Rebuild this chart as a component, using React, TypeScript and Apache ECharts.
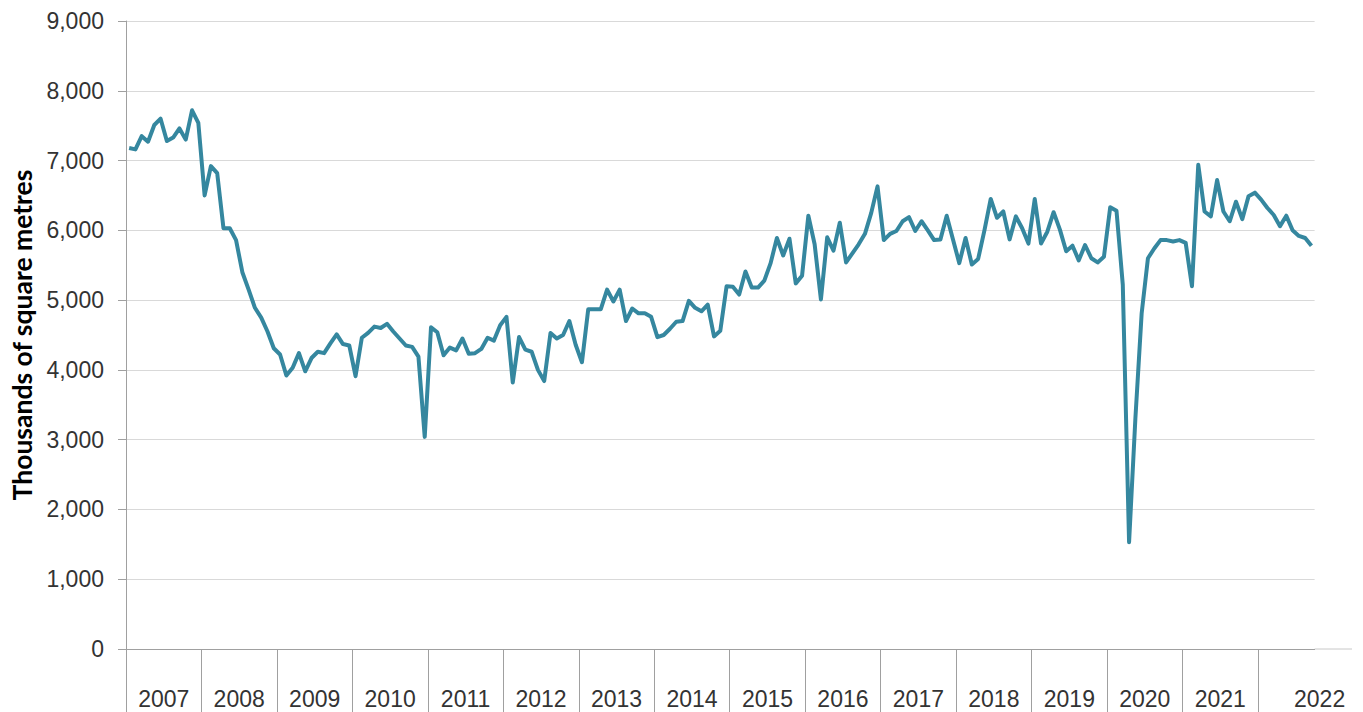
import React, { useEffect, useRef } from 'react';
import * as echarts from 'echarts';

// Year labels shown under the axis
const years: string[] = ['2007', '2008', '2009', '2010', '2011', '2012', '2013', '2014', '2015', '2016', '2017', '2018', '2019', '2020', '2021', '2022'];

// Monthly values, thousands of square metres
const v2007: number[] = [7180, 7160, 7350, 7270, 7510, 7600, 7280, 7330, 7460, 7300, 7720, 7540];
const v2008: number[] = [6500, 6920, 6820, 6030, 6030, 5860, 5400, 5150, 4890, 4750, 4550, 4310];
const v2009: number[] = [4220, 3920, 4030, 4240, 3980, 4170, 4260, 4240, 4380, 4510, 4370, 4350];
const v2010: number[] = [3910, 4460, 4530, 4620, 4600, 4660, 4550, 4450, 4350, 4330, 4190, 3040];
const v2011: number[] = [4610, 4540, 4210, 4320, 4280, 4450, 4230, 4240, 4300, 4460, 4420, 4640];
const v2012: number[] = [4760, 3820, 4470, 4290, 4260, 4000, 3840, 4530, 4450, 4500, 4700, 4360];
const v2013: number[] = [4110, 4870, 4870, 4870, 5150, 4980, 5150, 4700, 4880, 4810, 4810, 4760];
const v2014: number[] = [4470, 4500, 4590, 4690, 4700, 4990, 4890, 4840, 4935, 4480, 4560, 5200];
const v2015: number[] = [5190, 5080, 5410, 5180, 5180, 5280, 5530, 5890, 5640, 5880, 5240, 5350];
const v2016: number[] = [6210, 5800, 5010, 5900, 5710, 6110, 5540, 5670, 5800, 5950, 6250, 6630];
const v2017: number[] = [5860, 5950, 5990, 6130, 6190, 5990, 6130, 6000, 5860, 5870, 6210, 5870];
const v2018: number[] = [5530, 5890, 5510, 5590, 6000, 6450, 6180, 6270, 5870, 6200, 6030, 5810];
const v2019: number[] = [6450, 5810, 5980, 6260, 6010, 5700, 5780, 5570, 5790, 5600, 5540, 5620];
const v2020: number[] = [6330, 6280, 5220, 1530, 3300, 4810, 5600, 5740, 5860, 5860, 5840, 5860];
const v2021: number[] = [5820, 5200, 6940, 6270, 6200, 6720, 6270, 6130, 6410, 6160, 6490, 6540];
const v2022: number[] = [6440, 6320, 6220, 6060, 6210, 6000, 5920, 5890, 5780];

const yTicks: number[] = [0, 1000, 2000, 3000, 4000, 5000, 6000, 7000, 8000, 9000];

const values: number[] = [
  ...v2007, ...v2008, ...v2009, ...v2010, ...v2011, ...v2012, ...v2013, ...v2014,
  ...v2015, ...v2016, ...v2017, ...v2018, ...v2019, ...v2020, ...v2021, ...v2022,
];

const categories: string[] = values.map((_, i) => {
  const y = years[Math.floor(i / 12)];
  const m = (i % 12) + 1;
  return `${y}-${m < 10 ? '0' + m : m}`;
});

const yearStarts: number[] = years.map((_, k) => k * 12);
const labelPositions: number[] = years.map((_, k) =>
  k === years.length - 1 ? values.length : k * 12 + 6
);

const GRID_LEFT = 126;
const GRID_TOP = 21;
const GRID_RIGHT = 48.4;
const GRID_BOTTOM = 63;
const W = 1363;
const H = 712;

export default function App() {
  const ref = useRef<HTMLDivElement>(null);

  useEffect(() => {
    if (!ref.current) return;
    const chart = echarts.init(ref.current, undefined, { renderer: 'svg' });
    const textColor = '#333333';
    const axisGray = '#a0a0a0';
    const fontFamily = '"Liberation Sans", Arial, sans-serif';

    chart.setOption({
      animation: false,
      backgroundColor: '#ffffff',
      grid: {
        left: GRID_LEFT,
        top: GRID_TOP,
        right: GRID_RIGHT,
        bottom: GRID_BOTTOM,
        containLabel: false,
      },
      xAxis: [
        {
          type: 'category',
          data: categories,
          boundaryGap: true,
          position: 'bottom',
          axisLine: { show: true, lineStyle: { color: axisGray, width: 1 } },
          axisTick: { show: false },
          axisLabel: { show: false },
          splitLine: { show: false },
        },
        {
          type: 'value',
          min: 0,
          max: values.length,
          position: 'bottom',
          axisLine: { show: false, onZero: false },
          splitLine: { show: false },
          axisTick: {
            show: true,
            customValues: yearStarts,
            length: 70,
            lineStyle: { color: axisGray, width: 1 },
          },
          axisLabel: {
            show: true,
            customValues: labelPositions,
            margin: 38,
            color: textColor,
            fontSize: 23,
            fontFamily,
            formatter: (v: number) => {
              const k = Math.min(Math.floor(v / 12), years.length - 1);
              return k === years.length - 1 ? `{b|${years[k]}}` : `{a|${years[k]}}`;
            },
            rich: {
              a: { color: textColor, fontSize: 23, fontFamily },
              b: { color: textColor, fontSize: 23, fontFamily, padding: [0, 0, 0, 10] },
            },
          },
        },
      ],
      yAxis: {
        type: 'value',
        min: yTicks[0],
        max: yTicks[yTicks.length - 1],
        interval: 1000,
        name: 'Thousands of square metres',
        nameLocation: 'middle',
        nameRotate: 90,
        nameGap: 91,
        nameTextStyle: {
          color: '#000000',
          fontSize: 26.5,
          fontWeight: 'bold',
          fontFamily: 'Lato, "Open Sans", sans-serif',
        },
        axisLine: { show: true, lineStyle: { color: axisGray, width: 1 } },
        axisTick: { show: true, inside: false, length: 8, lineStyle: { color: axisGray, width: 1 } },
        axisLabel: {
          margin: 22,
          color: textColor,
          fontSize: 23,
          fontFamily,
          formatter: (v: number) => v.toLocaleString('en-US'),
        },
        splitLine: { show: true, lineStyle: { color: '#d9d9d9', width: 1 } },
      },
      graphic: [
        {
          type: 'line',
          shape: { x1: W - GRID_RIGHT, y1: H - GRID_BOTTOM, x2: 1352, y2: H - GRID_BOTTOM },
          style: { stroke: '#c8c8c8', lineWidth: 1 },
          silent: true,
        },
      ],
      series: [
        {
          type: 'line',
          xAxisIndex: 0,
          data: values,
          symbol: 'none',
          smooth: false,
          lineStyle: { color: '#35879f', width: 4, join: 'round' },
          itemStyle: { color: '#35879f' },
        },
      ],
    });

    return () => {
      chart.dispose();
    };
  }, []);

  return (
    <div
      ref={ref}
      style={{ position: 'fixed', left: 0, top: 0, width: W, height: H, background: '#fff' }}
    />
  );
}
